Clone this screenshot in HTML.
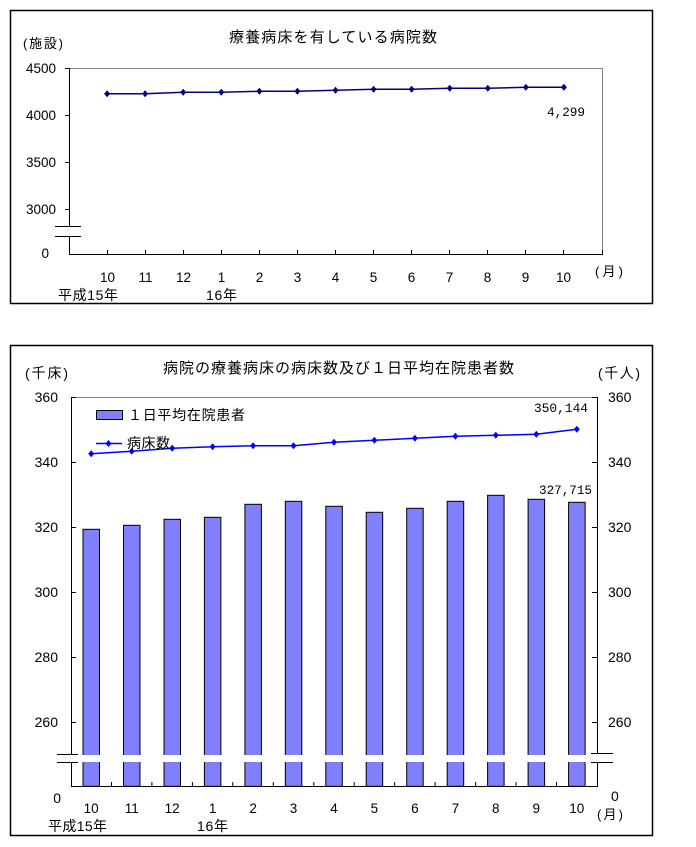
<!DOCTYPE html>
<html><head><meta charset="utf-8"><style>
html,body{margin:0;padding:0;background:#fff;}
svg{display:block;}
text{font-family:"Liberation Sans","Noto Sans CJK JP",sans-serif;fill:#000;}
.m{font-family:"Liberation Mono","Noto Sans CJK JP",monospace;}
</style></head><body>
<svg width="696" height="847" viewBox="0 0 696 847" xmlns="http://www.w3.org/2000/svg">
<rect width="696" height="847" fill="#fff"/>
<defs>
<polygon id="d" points="0,-3.5 3,0 0,3.5 -3,0"/>
</defs>
<!-- ========== TOP CHART ========== -->
<rect x="10.5" y="10.5" width="642" height="293" fill="none" stroke="#000" stroke-width="1.5"/>
<text x="229" y="42" font-size="15" textLength="208" lengthAdjust="spacing">療養病床を有している病院数</text>
<text x="23" y="48" font-size="13" textLength="40" lengthAdjust="spacing">(施設)</text>
<!-- plot frame -->
<polyline points="69.5,68.5 602.5,68.5 602.5,254.5" fill="none" stroke="#808080" stroke-width="1"/>
<line x1="69.5" y1="68" x2="69.5" y2="226" stroke="#000"/>
<line x1="69.5" y1="236" x2="69.5" y2="255" stroke="#000"/>
<line x1="69" y1="254.5" x2="603" y2="254.5" stroke="#000"/>
<line x1="55" y1="226.5" x2="81" y2="226.5" stroke="#000"/>
<line x1="55" y1="236.5" x2="81" y2="236.5" stroke="#000"/>
<!-- y ticks -->
<g stroke="#000">
<line x1="65" y1="115.5" x2="69" y2="115.5"/>
<line x1="65" y1="162.5" x2="69" y2="162.5"/>
<line x1="65" y1="209.5" x2="69" y2="209.5"/>
<line x1="65" y1="68.5" x2="69" y2="68.5"/>
</g>
<g font-size="13.5" text-anchor="end">
<text x="56" y="73">4500</text>
<text x="56" y="120">4000</text>
<text x="56" y="167">3500</text>
<text x="56" y="214">3000</text>
<text x="49" y="258">0</text>
</g>
<!-- x ticks -->
<g stroke="#000">
<line x1="107.5" y1="250" x2="107.5" y2="254"/><line x1="145.5" y1="250" x2="145.5" y2="254"/>
<line x1="183.5" y1="250" x2="183.5" y2="254"/><line x1="221.5" y1="250" x2="221.5" y2="254"/>
<line x1="259.5" y1="250" x2="259.5" y2="254"/><line x1="297.5" y1="250" x2="297.5" y2="254"/>
<line x1="335.5" y1="250" x2="335.5" y2="254"/><line x1="373.5" y1="250" x2="373.5" y2="254"/>
<line x1="411.5" y1="250" x2="411.5" y2="254"/><line x1="449.5" y1="250" x2="449.5" y2="254"/>
<line x1="487.5" y1="250" x2="487.5" y2="254"/><line x1="525.5" y1="250" x2="525.5" y2="254"/>
<line x1="563.5" y1="250" x2="563.5" y2="254"/><line x1="602.5" y1="250" x2="602.5" y2="254"/>
</g>
<g font-size="13.5" text-anchor="middle">
<text x="107.5" y="282">10</text><text x="145.5" y="282">11</text><text x="183.5" y="282">12</text>
<text x="221.5" y="282">1</text><text x="259.5" y="282">2</text><text x="297.5" y="282">3</text>
<text x="335.5" y="282">4</text><text x="373.5" y="282">5</text><text x="411.5" y="282">6</text>
<text x="449.5" y="282">7</text><text x="487.5" y="282">8</text><text x="525.5" y="282">9</text>
<text x="563.5" y="282">10</text>
</g>
<text x="58" y="300" font-size="14" textLength="60" lengthAdjust="spacing">平成15年</text>
<text x="206" y="300" font-size="14" textLength="31" lengthAdjust="spacing">16年</text>
<text x="595" y="276" font-size="13" textLength="28" lengthAdjust="spacing">(月)</text>
<!-- series -->
<polyline fill="none" stroke="#000080" stroke-width="1.5" points="107.1,93.7 145.1,93.7 183.2,92.3 221.3,92.3 259.4,91.3 297.4,91.3 335.5,90.3 373.6,89.3 411.6,89.3 449.7,88.3 487.8,88.3 525.8,87.3 563.9,87.3"/>
<g fill="#000080">
<use href="#d" x="107.1" y="93.7"/><use href="#d" x="145.1" y="93.7"/><use href="#d" x="183.2" y="92.3"/>
<use href="#d" x="221.3" y="92.3"/><use href="#d" x="259.4" y="91.3"/><use href="#d" x="297.4" y="91.3"/>
<use href="#d" x="335.5" y="90.3"/><use href="#d" x="373.6" y="89.3"/><use href="#d" x="411.6" y="89.3"/>
<use href="#d" x="449.7" y="88.3"/><use href="#d" x="487.8" y="88.3"/><use href="#d" x="525.8" y="87.3"/>
<use href="#d" x="563.9" y="87.3"/>
</g>
<text class="m" x="547" y="116" font-size="13" textLength="38" lengthAdjust="spacingAndGlyphs">4,299</text>

<!-- ========== BOTTOM CHART ========== -->
<rect x="10.5" y="345.5" width="642" height="490" fill="none" stroke="#000" stroke-width="1.5"/>
<text x="163" y="373" font-size="15" textLength="351" lengthAdjust="spacing">病院の療養病床の病床数及び１日平均在院患者数</text>
<text x="25" y="378" font-size="14" textLength="43" lengthAdjust="spacing">(千床)</text>
<text x="598" y="378" font-size="14" textLength="42" lengthAdjust="spacing">(千人)</text>
<line x1="71" y1="397.5" x2="597" y2="397.5" stroke="#808080"/>
<!-- bars -->
<g fill="#8080FF" stroke="#000" stroke-width="1">
<rect x="83" y="529.3" width="16.5" height="257"/>
<rect x="123.5" y="525.3" width="16.5" height="261"/>
<rect x="164" y="519.3" width="16.5" height="267"/>
<rect x="204.4" y="517.3" width="16.5" height="269"/>
<rect x="244.9" y="504.3" width="16.5" height="282"/>
<rect x="285.3" y="501.3" width="16.5" height="285"/>
<rect x="325.8" y="506.3" width="16.5" height="280"/>
<rect x="366.2" y="512.3" width="16.5" height="274"/>
<rect x="406.7" y="508.3" width="16.5" height="278"/>
<rect x="447.2" y="501.3" width="16.5" height="285"/>
<rect x="487.6" y="495.3" width="16.5" height="291"/>
<rect x="528.1" y="499.3" width="16.5" height="287"/>
<rect x="568.6" y="502.3" width="16.5" height="284"/>
</g>
<rect x="72" y="755" width="525" height="7" fill="#fff"/>
<!-- axes -->
<g stroke="#000">
<line x1="71.5" y1="397" x2="71.5" y2="754"/>
<line x1="71.5" y1="762" x2="71.5" y2="787"/>
<line x1="597.5" y1="397" x2="597.5" y2="754"/>
<line x1="597.5" y1="762" x2="597.5" y2="787"/>
<line x1="71" y1="786.5" x2="598" y2="786.5"/>
<line x1="57" y1="754.5" x2="78" y2="754.5"/>
<line x1="57" y1="762.5" x2="78" y2="762.5"/>
<line x1="591" y1="753.5" x2="613" y2="753.5"/>
<line x1="591" y1="762.5" x2="613" y2="762.5"/>
<!-- left ticks -->
<line x1="71" y1="397.5" x2="76" y2="397.5"/><line x1="71" y1="462.5" x2="76" y2="462.5"/>
<line x1="71" y1="527.5" x2="76" y2="527.5"/><line x1="71" y1="592.5" x2="76" y2="592.5"/>
<line x1="71" y1="657.5" x2="76" y2="657.5"/><line x1="71" y1="722.5" x2="76" y2="722.5"/>
<!-- right ticks -->
<line x1="592" y1="397.5" x2="597" y2="397.5"/><line x1="592" y1="462.5" x2="597" y2="462.5"/>
<line x1="592" y1="527.5" x2="597" y2="527.5"/><line x1="592" y1="592.5" x2="597" y2="592.5"/>
<line x1="592" y1="657.5" x2="597" y2="657.5"/><line x1="592" y1="722.5" x2="597" y2="722.5"/>
<!-- x ticks -->
<line x1="111.5" y1="782" x2="111.5" y2="786"/><line x1="151.9" y1="782" x2="151.9" y2="786"/>
<line x1="192.4" y1="782" x2="192.4" y2="786"/><line x1="232.8" y1="782" x2="232.8" y2="786"/>
<line x1="273.3" y1="782" x2="273.3" y2="786"/><line x1="313.8" y1="782" x2="313.8" y2="786"/>
<line x1="354.2" y1="782" x2="354.2" y2="786"/><line x1="394.7" y1="782" x2="394.7" y2="786"/>
<line x1="435.1" y1="782" x2="435.1" y2="786"/><line x1="475.6" y1="782" x2="475.6" y2="786"/>
<line x1="516.1" y1="782" x2="516.1" y2="786"/><line x1="556.5" y1="782" x2="556.5" y2="786"/>
</g>
<g font-size="14" text-anchor="end">
<text x="58" y="402">360</text><text x="58" y="467">340</text><text x="58" y="532">320</text>
<text x="58" y="597">300</text><text x="58" y="662">280</text><text x="58" y="727">260</text>
<text x="61" y="803">0</text>
</g>
<g font-size="14">
<text x="608" y="402">360</text><text x="608" y="467">340</text><text x="608" y="532">320</text>
<text x="608" y="597">300</text><text x="608" y="662">280</text><text x="608" y="727">260</text>
<text x="611" y="801">0</text>
</g>
<g font-size="13.5" text-anchor="middle">
<text x="91.2" y="813">10</text><text x="131.7" y="813">11</text><text x="172.2" y="813">12</text>
<text x="212.6" y="813">1</text><text x="253.1" y="813">2</text><text x="293.5" y="813">3</text>
<text x="334" y="813">4</text><text x="374.4" y="813">5</text><text x="414.9" y="813">6</text>
<text x="455.4" y="813">7</text><text x="495.8" y="813">8</text><text x="536.3" y="813">9</text>
<text x="576.8" y="813">10</text>
</g>
<text x="48" y="831" font-size="14" textLength="59" lengthAdjust="spacing">平成15年</text>
<text x="197" y="831" font-size="14" textLength="31" lengthAdjust="spacing">16年</text>
<text x="597" y="819" font-size="13" textLength="26" lengthAdjust="spacing">(月)</text>
<!-- line series -->
<polyline fill="none" stroke="#0000FF" stroke-width="1.5" points="91.2,453.7 131.7,451.3 172.2,448.3 212.6,446.7 253.1,445.7 293.5,445.7 334,442.3 374.4,440.3 414.9,438.3 455.4,436.3 495.8,435.3 536.3,434.3 576.8,429.3"/>
<g fill="#0000FF">
<use href="#d" x="91.2" y="453.7"/><use href="#d" x="131.7" y="451.3"/><use href="#d" x="172.2" y="448.3"/>
<use href="#d" x="212.6" y="446.7"/><use href="#d" x="253.1" y="445.7"/><use href="#d" x="293.5" y="445.7"/>
<use href="#d" x="334" y="442.3"/><use href="#d" x="374.4" y="440.3"/><use href="#d" x="414.9" y="438.3"/>
<use href="#d" x="455.4" y="436.3"/><use href="#d" x="495.8" y="435.3"/><use href="#d" x="536.3" y="434.3"/>
<use href="#d" x="576.8" y="429.3"/>
</g>
<!-- legend -->
<rect x="96.5" y="410.5" width="26" height="9" fill="#8080FF" stroke="#000"/>
<text x="128" y="420" font-size="14" textLength="117" lengthAdjust="spacing">１日平均在院患者</text>
<line x1="96" y1="443.5" x2="122" y2="443.5" stroke="#0000FF" stroke-width="1.5"/>
<use href="#d" x="108.5" y="443.5" fill="#0000FF"/>
<text x="127" y="448" font-size="14" textLength="43" lengthAdjust="spacing">病床数</text>
<!-- value labels -->
<text class="m" x="534" y="412" font-size="13" textLength="54" lengthAdjust="spacingAndGlyphs">350,144</text>
<text class="m" x="539" y="494" font-size="13" textLength="53" lengthAdjust="spacingAndGlyphs">327,715</text>
</svg>
</body></html>
